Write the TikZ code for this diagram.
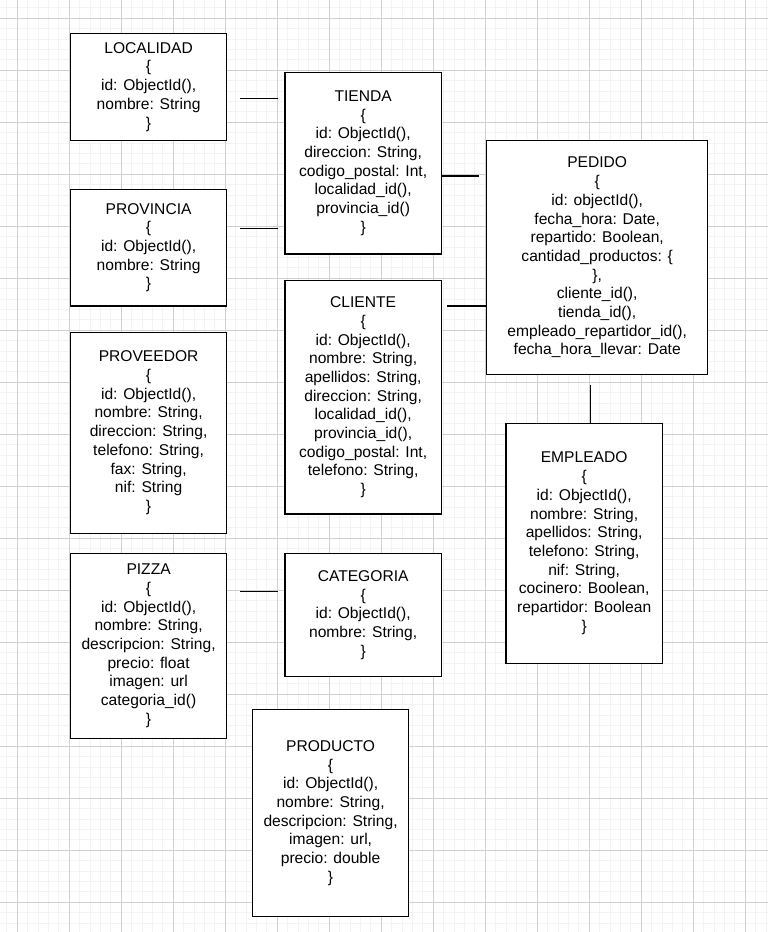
\documentclass[tikz,border=0pt]{standalone}
\usepackage{fontspec}
\setmainfont{Liberation Sans}
\definecolor{gridminor}{HTML}{F3F3F3}
\definecolor{gridmajor}{HTML}{D0D0D0}
\begin{document}
\begin{tikzpicture}[x=1pt,y=-1pt,
  minorline/.style={draw=gridminor,line width=1pt},
  majorline/.style={draw=gridmajor,line width=1pt},
  ent/.style={draw=black,fill=white,line width=1.3pt,inner sep=0pt,outer sep=0pt,
    align=center,font=\fontsize{15.6}{18.7}\selectfont},
  conn/.style={draw=black,line width=1.3pt}]
\useasboundingbox (0,0) rectangle (768,932);
\fill[white] (0,0) rectangle (768,932);
% grid
\foreach \i in {0,...,73} {\draw[minorline] (6.9+10.4*\i,0) -- (6.9+10.4*\i,932);}
\foreach \i in {0,...,89} {\draw[minorline] (0,7.9+10.4*\i) -- (768,7.9+10.4*\i);}
\foreach \i in {0,...,14} {\draw[majorline] (17.3+52*\i,0) -- (17.3+52*\i,932);}
\foreach \i in {0,...,17} {\draw[majorline] (0,18.3+52*\i) -- (768,18.3+52*\i);}
% entities
\node[ent,minimum width=156.2pt,minimum height=107pt] (loc) at (148.6,86.8)
  {LOCALIDAD\\\{\\id: ObjectId(),\\nombre: String\\\}};
\node[ent,minimum width=156.2pt,minimum height=116.7pt] (prov) at (148.6,247.65)
  {PROVINCIA\\\{\\id: ObjectId(),\\nombre: String\\\}};
\node[ent,minimum width=156.2pt,minimum height=201pt] (provee) at (148.6,432.8)
  {PROVEEDOR\\\{\\id: ObjectId(),\\nombre: String,\\direccion: String,\\telefono: String,\\fax: String,\\nif: String\\\}};
\node[ent,minimum width=156.2pt,minimum height=185pt] (pizza) at (148.6,645.8)
  {PIZZA\\\{\\id: ObjectId(),\\nombre: String,\\descripcion: String,\\precio: float\\imagen: url\\categoria\_id()\\\}};
\node[ent,minimum width=156.3pt,minimum height=181.7pt] (tienda) at (363.15,163.15)
  {TIENDA\\\{\\id: ObjectId(),\\direccion: String,\\codigo\_postal: Int,\\localidad\_id(),\\provincia\_id()\\\}};
\node[ent,minimum width=156.3pt,minimum height=233.3pt] (cliente) at (363.15,397.35)
  {CLIENTE\\\{\\id: ObjectId(),\\nombre: String,\\apellidos: String,\\direccion: String,\\localidad\_id(),\\provincia\_id(),\\codigo\_postal: Int,\\telefono: String,\\\}};
\node[ent,minimum width=156.3pt,minimum height=123.4pt] (cat) at (363.15,615)
  {CATEGORIA\\\{\\id: ObjectId(),\\nombre: String,\\\}};
\node[ent,minimum width=155.8pt,minimum height=207.4pt] (prod) at (330.6,813)
  {PRODUCTO\\\{\\id: ObjectId(),\\nombre: String,\\descripcion: String,\\imagen: url,\\precio: double\\\}};
\node[ent,minimum width=221pt,minimum height=233.6pt] (pedido) at (597.2,257.5)
  {PEDIDO\\\{\\id: objectId(),\\fecha\_hora: Date,\\repartido: Boolean,\\cantidad\_productos: \{\\\},\\cliente\_id(),\\tienda\_id(),\\empleado\_repartidor\_id(),\\fecha\_hora\_llevar: Date};
\node[ent,minimum width=156.3pt,minimum height=240pt] (emp) at (584.15,543.3)
  {EMPLEADO\\\{\\id: ObjectId(),\\nombre: String,\\apellidos: String,\\telefono: String,\\nif: String,\\cocinero: Boolean,\\repartidor: Boolean\\\}};
% connectors
\draw[conn,shorten <=13.4pt,shorten >=6.7pt] (loc.east |- 0,98.3) -- (tienda.west |- 0,98.3);
\draw[conn,shorten <=13.4pt,shorten >=6.7pt] (prov.east |- 0,228.3) -- (tienda.west |- 0,228.3);
\draw[conn,shorten <=1pt,shorten >=7.4pt] (tienda.east |- 0,176) -- (pedido.west |- 0,176);
\draw[conn,shorten <=6pt] (cliente.east |- 0,306) -- (pedido.west |- 0,306);
\draw[conn,shorten <=10.7pt] (pedido.south -| 590.7,0) -- (emp.north -| 590.7,0);
\draw[conn,shorten <=13.4pt,shorten >=6.7pt] (pizza.east |- 0,591.7) -- (cat.west |- 0,591.7);
\end{tikzpicture}
\end{document}
